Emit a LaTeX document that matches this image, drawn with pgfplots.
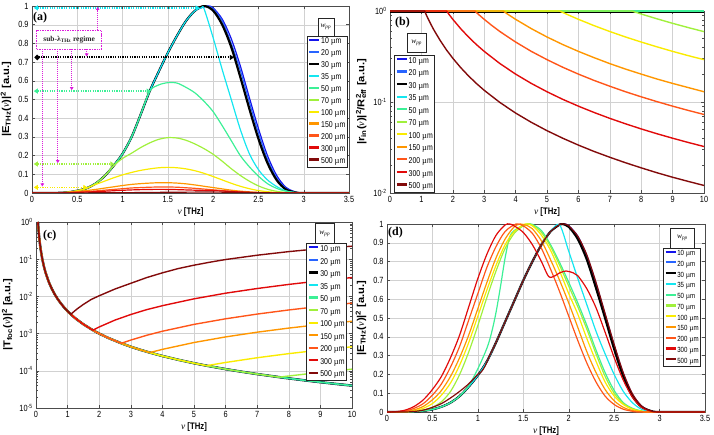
\documentclass[border=0pt]{standalone}
\usepackage{fontspec}
\setmainfont{Liberation Sans}
\newfontfamily\tickf{Liberation Sans}[FakeStretch=0.82]
\newfontfamily\ylabf{Liberation Sans}[FakeStretch=1.12]
\newfontfamily\serif{Liberation Serif}
\usepackage{pgfplots}
\pgfplotsset{compat=1.18}
\usepackage{pgfplotstable}
\usetikzlibrary{arrows.meta}

\newcommand{\um}{{\serif µ}m}
\newcommand{\nuv}{{\serif\itshape\mdseries ν}}
\newcommand{\wpp}{{\serif\itshape w}\textsubscript{\serif\itshape pp}}

\definecolor{c10}{RGB}{20,20,235}
\definecolor{c20}{RGB}{40,100,255}
\definecolor{c30}{RGB}{0,0,0}
\definecolor{c35}{RGB}{20,230,240}
\definecolor{c50}{RGB}{60,240,150}
\definecolor{c70}{RGB}{160,240,60}
\definecolor{c100}{RGB}{250,235,0}
\definecolor{c150}{RGB}{255,150,0}
\definecolor{c200}{RGB}{255,85,25}
\definecolor{c300}{RGB}{225,10,10}
\definecolor{c500}{RGB}{130,10,10}
\definecolor{mag}{RGB}{220,30,220}

\pgfplotsset{
  panel/.style={
    scale only axis,
    axis line style={black!70, line width=0.5pt},
    tick style={black!70, line width=0.4pt},
    tick align=inside,
    major tick length=3pt,
    minor tick length=1.8pt,
    grid=major,
    grid style={black!18, line width=0.3pt},
    ticklabel style={font=\tickf\fontsize{9}{10}\selectfont},
    xlabel style={font=\bfseries\tickf\fontsize{9.5}{10}\selectfont, yshift=2pt},
    ylabel style={font=\bfseries\ylabf\fontsize{10}{11}\selectfont},
    /pgf/number format/assume math mode=true,
    every axis plot/.append style={line width=1.2pt},
    legend cell align=left,
    legend image code/.code={\draw[line width=2.2pt, ##1] (0pt,2pt) -- (10pt,2pt);},
    legend style={draw=black!85, line width=0.6pt, fill=white,
       font=\tickf\fontsize{8.5}{9}\selectfont, inner sep=1pt,
       nodes={inner sep=0.8pt, text height=6pt, text depth=1.8pt},
       row sep=2.6pt},
  },
  sm/.style={smooth, tension=0.5},
}

\pgfplotstableread{
x y
0.0632 1
0.07 0.816
0.08 0.625
0.09 0.494
0.1 0.4
0.12 0.278
0.15 0.178
0.2 0.1
0.25 0.064
0.3 0.0444
0.4 0.025
0.5 0.016
0.6 0.0111
0.7 0.00816
0.8 0.00625
0.9 0.00494
1.0 0.004
1.1 0.00331
1.25 0.00256
1.5 0.00178
1.8 0.001235
2 0.001
2.3 0.000756
2.7 0.000549
3 0.000444
3.3 0.000367
3.6 0.000309
4 0.00025
4.5 0.000198
5 0.00016
5.4 0.0001372
6 0.000111
6.5 0.0000947
7 0.0000816
7.7 0.0000675
8 0.0000625
8.5 0.0000554
9 0.0000494
9.5 0.0000443
10 0.00004
}\Tcom

\begin{document}
\begin{tikzpicture}
\useasboundingbox (0,0) rectangle (714bp,435bp);

% ---------------- (a)
\begin{axis}[panel, at={(32bp,242bp)}, anchor=south west, width=317bp, height=187bp,
  xmin=0, xmax=3.5, ymin=0, ymax=1,
  xtick={0,0.5,1,1.5,2,2.5,3,3.5},
  ytick={0,0.1,0.2,0.3,0.4,0.5,0.6,0.7,0.8,0.9,1},
  xlabel={\nuv\ [THz]},
  ylabel={|E\textsubscript{THz}(\nuv)|\textsuperscript{2} [a.u.]},
  legend style={at={(0.995,0.84)}, anchor=north east}]
\addplot[c10, sm] coordinates {(0,0)(0.2,0)(0.3,0.001)(0.4,0.004)(0.5,0.012)(0.6,0.025)(0.7,0.05)(0.8,0.09)(0.9,0.145)(1.0,0.21)(1.1,0.30)(1.2,0.42)(1.3,0.545)(1.4,0.65)(1.5,0.75)(1.6,0.84)(1.7,0.92)(1.8,0.975)(1.9,0.995)(1.95,1.0)(2.0,0.99)(2.1,0.93)(2.2,0.825)(2.3,0.68)(2.4,0.51)(2.5,0.345)(2.6,0.20)(2.7,0.095)(2.8,0.032)(2.9,0.007)(3.0,0)(3.5,0)};
\addlegendentry{10 \um}
\addplot[c20, sm] coordinates {(0,0)(0.2,0)(0.3,0.001)(0.4,0.004)(0.5,0.012)(0.6,0.025)(0.7,0.05)(0.8,0.09)(0.9,0.145)(1.0,0.21)(1.1,0.30)(1.2,0.42)(1.3,0.545)(1.4,0.65)(1.5,0.75)(1.6,0.84)(1.7,0.92)(1.8,0.975)(1.9,0.997)(1.95,0.998)(2.0,0.985)(2.1,0.92)(2.2,0.80)(2.3,0.655)(2.4,0.485)(2.5,0.32)(2.6,0.18)(2.7,0.082)(2.8,0.026)(2.9,0.005)(3.0,0)(3.5,0)};
\addlegendentry{20 \um}
\addplot[c30, sm, line width=2.2pt] coordinates {(0,0)(0.2,0)(0.3,0.001)(0.4,0.004)(0.5,0.012)(0.6,0.025)(0.7,0.05)(0.8,0.09)(0.9,0.145)(1.0,0.21)(1.1,0.30)(1.2,0.42)(1.3,0.545)(1.4,0.65)(1.5,0.75)(1.6,0.84)(1.7,0.92)(1.8,0.975)(1.9,1.0)(2.0,0.975)(2.1,0.90)(2.2,0.78)(2.3,0.62)(2.4,0.45)(2.5,0.29)(2.6,0.16)(2.7,0.07)(2.8,0.02)(2.9,0.004)(3.0,0)(3.5,0)};
\addlegendentry{30 \um}
\addplot[c35, sm] coordinates {(0,0)(0.2,0)(0.3,0.001)(0.4,0.004)(0.5,0.012)(0.6,0.025)(0.7,0.05)(0.8,0.09)(0.9,0.145)(1.0,0.21)(1.1,0.30)(1.2,0.42)(1.3,0.545)(1.4,0.65)(1.5,0.75)(1.6,0.84)(1.7,0.92)(1.8,0.975)(1.87,0.99)(1.9,0.985)(2.0,0.83)(2.1,0.66)(2.2,0.50)(2.3,0.34)(2.4,0.21)(2.5,0.125)(2.6,0.07)(2.7,0.035)(2.8,0.012)(2.9,0.003)(3.0,0)(3.5,0)};
\addlegendentry{35 \um}
\addplot[c50, sm] coordinates {(0,0)(0.2,0)(0.3,0.001)(0.4,0.004)(0.5,0.012)(0.6,0.025)(0.7,0.05)(0.8,0.09)(0.9,0.145)(1.0,0.21)(1.1,0.30)(1.2,0.42)(1.3,0.545)(1.4,0.578)(1.5,0.59)(1.6,0.588)(1.7,0.565)(1.8,0.535)(1.9,0.49)(2.0,0.435)(2.1,0.36)(2.2,0.28)(2.3,0.20)(2.4,0.14)(2.5,0.09)(2.6,0.05)(2.7,0.025)(2.8,0.01)(2.9,0.003)(3.0,0)(3.5,0)};
\addlegendentry{50 \um}
\addplot[c70, sm] coordinates {(0,0)(0.2,0)(0.3,0.001)(0.4,0.004)(0.5,0.012)(0.6,0.025)(0.7,0.05)(0.8,0.09)(0.9,0.145)(1.0,0.185)(1.1,0.213)(1.2,0.243)(1.3,0.268)(1.4,0.287)(1.5,0.296)(1.6,0.294)(1.7,0.282)(1.8,0.262)(1.9,0.237)(2.0,0.207)(2.1,0.17)(2.2,0.13)(2.3,0.094)(2.4,0.063)(2.5,0.038)(2.6,0.02)(2.7,0.009)(2.8,0.003)(2.9,0.001)(3.0,0)(3.5,0)};
\addlegendentry{70 \um}
\addplot[c100, sm] coordinates {(0,0)(0.2,0)(0.3,0.001)(0.4,0.004)(0.5,0.012)(0.6,0.025)(0.7,0.045)(0.8,0.063)(0.9,0.081)(1.0,0.097)(1.1,0.11)(1.2,0.121)(1.3,0.129)(1.4,0.135)(1.5,0.137)(1.6,0.135)(1.7,0.129)(1.8,0.119)(1.9,0.105)(2.0,0.088)(2.1,0.07)(2.2,0.052)(2.3,0.036)(2.4,0.023)(2.5,0.013)(2.6,0.007)(2.7,0.003)(2.8,0.001)(2.9,0)(3.5,0)};
\addlegendentry{100 \um}
\addplot[c150, sm] coordinates {(0,0)(0.2,0)(0.3,0.001)(0.4,0.004)(0.5,0.008)(0.6,0.013)(0.7,0.019)(0.8,0.026)(0.9,0.033)(1.0,0.04)(1.1,0.046)(1.2,0.05)(1.3,0.053)(1.4,0.055)(1.5,0.055)(1.6,0.053)(1.7,0.049)(1.8,0.043)(1.9,0.036)(2.0,0.029)(2.1,0.022)(2.2,0.015)(2.3,0.01)(2.4,0.006)(2.5,0.003)(2.6,0.0015)(2.7,0.0005)(2.8,0)(3.5,0)};
\addlegendentry{150 \um}
\addplot[c200, sm] coordinates {(0,0)(0.2,0)(0.3,0.001)(0.4,0.003)(0.5,0.005)(0.6,0.008)(0.7,0.011)(0.8,0.015)(0.9,0.019)(1.0,0.023)(1.1,0.027)(1.2,0.029)(1.3,0.031)(1.4,0.032)(1.5,0.032)(1.6,0.031)(1.7,0.028)(1.8,0.025)(1.9,0.021)(2.0,0.017)(2.1,0.013)(2.2,0.009)(2.3,0.006)(2.4,0.0035)(2.5,0.002)(2.6,0.001)(2.8,0)(3.5,0)};
\addlegendentry{200 \um}
\addplot[c300, sm] coordinates {(0,0)(0.2,0)(0.3,0.0005)(0.4,0.0015)(0.5,0.003)(0.6,0.005)(0.7,0.007)(0.8,0.0095)(0.9,0.012)(1.0,0.0145)(1.1,0.0165)(1.2,0.018)(1.3,0.019)(1.4,0.0195)(1.5,0.019)(1.6,0.018)(1.7,0.0165)(1.8,0.015)(1.9,0.014)(2.0,0.0125)(2.1,0.0105)(2.2,0.008)(2.3,0.0055)(2.4,0.0035)(2.5,0.002)(2.6,0.001)(2.8,0)(3.5,0)};
\addlegendentry{300 \um}
\addplot[c500, sm] coordinates {(0,0)(0.3,0)(0.5,0.0005)(0.7,0.001)(0.9,0.0015)(1.0,0.0018)(1.1,0.002)(1.3,0.003)(1.5,0.0038)(1.7,0.0045)(1.9,0.005)(2.1,0.0045)(2.3,0.003)(2.5,0.0015)(2.7,0.0005)(2.9,0)(3.5,0)};
\addlegendentry{500 \um}
% annotations
\draw[c35, line width=1.6pt, dash pattern=on 1.2pt off 1.2pt, {Triangle[width=5pt,length=4pt]}-{Triangle[width=5pt,length=4pt]}] (axis cs:0.02,0.99) -- (axis cs:1.85,0.99);
\draw[black, line width=2pt, dash pattern=on 1.2pt off 1.2pt, {Circle[length=5pt]}-{Triangle[width=5pt,length=4pt]}] (axis cs:0.03,0.725) -- (axis cs:2.23,0.725);
\draw[c50, line width=1.6pt, dash pattern=on 1.2pt off 1.2pt, {Triangle[width=5pt,length=4pt]}-{Triangle[width=5pt,length=4pt]}] (axis cs:0.02,0.545) -- (axis cs:1.31,0.545);
\draw[c70, line width=1.6pt, dash pattern=on 1.2pt off 1.2pt, {Triangle[width=5pt,length=4pt]}-{Triangle[width=5pt,length=4pt]}] (axis cs:0.02,0.155) -- (axis cs:0.91,0.155);
\draw[c100, line width=1.6pt, dash pattern=on 1.2pt off 1.2pt, {Triangle[width=5pt,length=4pt]}-{Triangle[width=5pt,length=4pt]}] (axis cs:0.02,0.03) -- (axis cs:0.61,0.03);
\draw[mag, line width=0.6pt, dash pattern=on 1.5pt off 1pt] (axis cs:0.05,0.769) rectangle (axis cs:0.77,0.871);
\node[font=\serif\bfseries\fontsize{7.5}{8}\selectfont, text=black!85] at (axis cs:0.41,0.822) {sub-λ\textsubscript{THz} regime};
\draw[mag, line width=0.7pt, dash pattern=on 1pt off 1pt, -{Triangle[width=3.5pt,length=3pt]}] (axis cs:0.725,0.871) -- (axis cs:0.725,0.995);
\draw[mag, line width=0.7pt, dash pattern=on 1pt off 1pt, -{Triangle[width=3.5pt,length=3pt]}] (axis cs:0.114,0.769) -- (axis cs:0.114,0.035);
\draw[mag, line width=0.7pt, dash pattern=on 1pt off 1pt, -{Triangle[width=3.5pt,length=3pt]}] (axis cs:0.284,0.769) -- (axis cs:0.284,0.16);
\draw[mag, line width=0.7pt, dash pattern=on 1pt off 1pt, -{Triangle[width=3.5pt,length=3pt]}] (axis cs:0.438,0.769) -- (axis cs:0.438,0.55);
\draw[mag, line width=0.7pt, dash pattern=on 1pt off 1pt, -{Triangle[width=3.5pt,length=3pt]}] (axis cs:0.604,0.769) -- (axis cs:0.604,0.73);
\node[draw=black!85, line width=0.6pt, fill=white, minimum width=16bp, minimum height=18bp, inner sep=0pt, font=\fontsize{7.5}{8}\selectfont] at (rel axis cs:0.927,0.888) {\wpp};
\node[font=\serif\bfseries\fontsize{12}{13}\selectfont, anchor=west, inner sep=0pt] at (rel axis cs:0.003,0.94) {(a)};
\end{axis}

% ---------------- (b)
\begin{axis}[panel, at={(390bp,242bp)}, anchor=south west, width=314bp, height=182bp,
  ymode=log, xmin=0, xmax=10, ymin=0.01, ymax=1, clip=false,
  xtick={0,1,2,3,4,5,6,7,8,9,10},
  ytick={0.01,0.1,1}, yticklabels={10\textsuperscript{-2},10\textsuperscript{-1},10\textsuperscript{0}},
  xlabel={\nuv\ [THz]},
  ylabel={|r\textsubscript{in}(\nuv)|\textsuperscript{2}/R\rlap{\textsuperscript{2}}\textsubscript{eff} [a.u.]},
  every axis plot/.append style={line width=1.4pt},
  legend style={at={(0.014,0.003)}, anchor=south west, row sep=3.2pt}]
\addplot[c10] coordinates {(0,1)(10,1)};
\addlegendentry{10 \um}
\addplot[c20] coordinates {(0,1)(10,1)};
\addlegendentry{20 \um}
\addplot[c30, line width=2.2pt] coordinates {(0,0.975)(10,0.975)};
\addlegendentry{30 \um}
\addplot[c35] coordinates {(0,1)(10,1)};
\addlegendentry{35 \um}
\addplot[c50] coordinates {(0,1)(10,1)};
\addlegendentry{50 \um}
\addplot[c70] coordinates {(0,1)(7.7,1)(8,0.926)(8.5,0.821)(9,0.732)(9.5,0.657)(10,0.593)};
\addlegendentry{70 \um}
\addplot[c100] coordinates {(0,1)(5.4,1)(5.7,0.898)(6,0.81)(6.5,0.69)(7,0.595)(7.5,0.518)(8,0.456)(8.5,0.404)(9,0.36)(9.5,0.323)(10,0.292)};
\addlegendentry{100 \um}
\addplot[c150] coordinates {(0,1)(3.6,1)(3.8,0.898)(4,0.81)(4.5,0.64)(5,0.518)(5.5,0.428)(6,0.36)(6.5,0.307)(7,0.264)(7.5,0.23)(8,0.2025)(8.5,0.179)(9,0.16)(9.5,0.144)(10,0.1296)};
\addlegendentry{150 \um}
\addplot[c200] coordinates {(0,1)(2.7,1)(2.85,0.897)(3,0.81)(3.25,0.69)(3.5,0.595)(4,0.456)(4.5,0.36)(5,0.292)(5.5,0.241)(6,0.2025)(6.5,0.1725)(7,0.149)(7.5,0.1296)(8,0.114)(8.5,0.101)(9,0.09)(9.5,0.0808)(10,0.0729)};
\addlegendentry{200 \um}
\addplot[c300] coordinates {(0,1)(1.8,1)(1.9,0.898)(2,0.81)(2.25,0.64)(2.5,0.518)(2.75,0.428)(3,0.36)(3.5,0.2645)(4,0.2025)(4.5,0.16)(5,0.1296)(5.5,0.107)(6,0.09)(6.5,0.0767)(7,0.0661)(7.5,0.0576)(8,0.0506)(8.5,0.0448)(9,0.04)(9.5,0.0359)(10,0.0324)};
\addlegendentry{300 \um}
\addplot[c500] coordinates {(0,1)(1.1,1)(1.2,0.840)(1.3,0.716)(1.4,0.617)(1.6,0.473)(1.8,0.373)(2,0.3025)(2.25,0.239)(2.5,0.1936)(2.75,0.16)(3,0.1344)(3.5,0.0988)(4,0.0756)(4.5,0.0598)(5,0.0484)(5.5,0.04)(6,0.0336)(6.5,0.0286)(7,0.0247)(7.5,0.0215)(8,0.0189)(8.5,0.0167)(9,0.0149)(9.5,0.0134)(10,0.0121)};
\addlegendentry{500 \um}
\node[draw=black!85, line width=0.6pt, fill=white, minimum width=19bp, minimum height=19bp, inner sep=0pt, font=\fontsize{7.5}{8}\selectfont] at (rel axis cs:0.085,0.824) {\wpp};
\node[font=\serif\bfseries\fontsize{12}{13}\selectfont, anchor=west, inner sep=0pt] at (rel axis cs:0.016,0.934) {(b)};
\end{axis}

% ---------------- (c)
\begin{axis}[panel, at={(36bp,27bp)}, anchor=south west, width=316bp, height=186bp,
  ymode=log, xmin=0, xmax=10, ymin=1e-5, ymax=1,
  xtick={0,1,2,3,4,5,6,7,8,9,10},
  ytick={1e-5,1e-4,1e-3,1e-2,1e-1,1},
  yticklabels={10\textsuperscript{-5},10\textsuperscript{-4},10\textsuperscript{-3},10\textsuperscript{-2},10\textsuperscript{-1},10\textsuperscript{0}},
  xlabel={\nuv\ [THz]},
  ylabel={|T\textsubscript{foc}(\nuv)|\textsuperscript{2} [a.u.]},
  every axis plot/.append style={line width=1.4pt},
  legend style={at={(0.983,0.885)}, anchor=north east, row sep=3.2pt}]
\addplot[c10] table {\Tcom};
\addlegendentry{10 \um}
\addplot[c20] table {\Tcom};
\addlegendentry{20 \um}
\addplot[c30, line width=2.4pt] table {\Tcom};
\addlegendentry{30 \um}
\addplot[c35] table {\Tcom};
\addlegendentry{35 \um}
\addplot[c50] table {\Tcom};
\addlegendentry{50 \um}
\addplot[c70, forget plot, restrict x to domain=0:7.7] table {\Tcom};
\addplot[c70] coordinates {(7.7,0.0000675)(8,0.0000726)(9,0.0000908)(10,0.0001109)};
\addlegendentry{70 \um}
\addplot[c100, forget plot, restrict x to domain=0:5.4] table {\Tcom};
\addplot[c100] coordinates {(5.4,0.0001372)(6,0.0001675)(7,0.0002246)(8,0.0002895)(9,0.000362)(10,0.000442)};
\addlegendentry{100 \um}
\addplot[c150, forget plot, restrict x to domain=0:3.6] table {\Tcom};
\addplot[c150] coordinates {(3.6,0.000309)(4,0.000377)(5,0.000576)(6,0.000815)(7,0.001092)(8,0.001407)(9,0.00176)(10,0.00215)};
\addlegendentry{150 \um}
\addplot[c200, forget plot, restrict x to domain=0:2.7] table {\Tcom};
\addplot[c200] coordinates {(2.7,0.000549)(3,0.00067)(3.5,0.000899)(4,0.001158)(5,0.00177)(6,0.0025)(7,0.00335)(8,0.00432)(9,0.00541)(10,0.00661)};
\addlegendentry{200 \um}
\addplot[c300, forget plot, restrict x to domain=0:1.8] table {\Tcom};
\addplot[c300] coordinates {(1.8,0.001235)(2,0.001508)(2.5,0.00231)(3,0.00326)(3.5,0.0044)(4,0.00563)(5,0.0086)(6,0.0122)(7,0.0163)(8,0.021)(9,0.0263)(10,0.0321)};
\addlegendentry{300 \um}
\addplot[c500, forget plot, restrict x to domain=0:1.1] table {\Tcom};
\addplot[c500] coordinates {(1.1,0.00331)(1.3,0.0046)(1.5,0.0061)(1.75,0.0083)(2,0.0104)(2.5,0.0158)(3,0.0225)(3.5,0.032)(4,0.043)(4.5,0.056)(5,0.069)(5.5,0.083)(6,0.098)(7,0.128)(8,0.16)(9,0.193)(10,0.224)};
\addlegendentry{500 \um}
\node[draw=black!85, line width=0.6pt, fill=white, minimum width=19bp, minimum height=20bp, inner sep=0pt, font=\fontsize{7.5}{8}\selectfont] at (rel axis cs:0.914,0.939) {\wpp};
\node[font=\serif\bfseries\fontsize{12}{13}\selectfont, anchor=west, inner sep=0pt] at (rel axis cs:0.022,0.925) {(c)};
\end{axis}

% ---------------- (d)
\begin{axis}[panel, at={(387bp,23bp)}, anchor=south west, width=318bp, height=188bp,
  xmin=0, xmax=3.5, ymin=0, ymax=1,
  xtick={0,0.5,1,1.5,2,2.5,3,3.5},
  ytick={0,0.1,0.2,0.3,0.4,0.5,0.6,0.7,0.8,0.9,1},
  xlabel={\nuv\ [THz]},
  ylabel={|E\textsubscript{THz}(\nuv)|\textsuperscript{2} [a.u.]},
  legend style={at={(0.986,0.871)}, anchor=north east, font=\tickf\fontsize{7.5}{8}\selectfont,
    nodes={inner sep=0.6pt, text height=5.4pt, text depth=1.6pt}, row sep=2.6pt}]
\addplot[c10, sm] coordinates {(0,0)(0.2,0)(0.3,0.002)(0.4,0.006)(0.5,0.014)(0.6,0.028)(0.7,0.05)(0.8,0.085)(0.9,0.135)(1.0,0.195)(1.1,0.27)(1.2,0.37)(1.3,0.48)(1.4,0.59)(1.5,0.70)(1.6,0.80)(1.7,0.89)(1.8,0.96)(1.9,0.997)(1.95,1.0)(2.0,0.99)(2.1,0.935)(2.2,0.83)(2.3,0.685)(2.4,0.52)(2.5,0.355)(2.6,0.205)(2.7,0.095)(2.8,0.032)(2.9,0.007)(3.0,0)(3.5,0)};
\addlegendentry{10 \um}
\addplot[c20, sm] coordinates {(0,0)(0.2,0)(0.3,0.002)(0.4,0.006)(0.5,0.014)(0.6,0.028)(0.7,0.05)(0.8,0.085)(0.9,0.135)(1.0,0.195)(1.1,0.27)(1.2,0.37)(1.3,0.48)(1.4,0.59)(1.5,0.70)(1.6,0.80)(1.7,0.89)(1.8,0.96)(1.9,0.997)(1.95,1.0)(2.0,0.988)(2.1,0.927)(2.2,0.82)(2.3,0.67)(2.4,0.505)(2.5,0.34)(2.6,0.195)(2.7,0.088)(2.8,0.029)(2.9,0.006)(3.0,0)(3.5,0)};
\addlegendentry{20 \um}
\addplot[c30, sm, line width=2.2pt] coordinates {(0,0)(0.2,0)(0.3,0.002)(0.4,0.006)(0.5,0.014)(0.6,0.028)(0.7,0.05)(0.8,0.085)(0.9,0.135)(1.0,0.195)(1.1,0.27)(1.2,0.37)(1.3,0.48)(1.4,0.59)(1.5,0.70)(1.6,0.80)(1.7,0.89)(1.8,0.96)(1.9,0.997)(1.93,1.0)(2.0,0.985)(2.1,0.92)(2.2,0.81)(2.3,0.66)(2.4,0.50)(2.5,0.335)(2.6,0.19)(2.7,0.085)(2.8,0.028)(2.9,0.006)(3.0,0)(3.5,0)};
\addlegendentry{30 \um}
\addplot[c35, sm] coordinates {(0,0)(0.2,0)(0.3,0.002)(0.4,0.006)(0.5,0.014)(0.6,0.028)(0.7,0.05)(0.8,0.085)(0.9,0.135)(1.0,0.195)(1.1,0.27)(1.2,0.37)(1.3,0.48)(1.4,0.59)(1.5,0.70)(1.6,0.80)(1.7,0.89)(1.8,0.96)(1.9,0.995)(2.0,0.855)(2.1,0.71)(2.2,0.57)(2.3,0.43)(2.4,0.31)(2.5,0.20)(2.6,0.11)(2.7,0.05)(2.8,0.015)(2.9,0.003)(3.0,0)(3.5,0)};
\addlegendentry{35 \um}
\addplot[c50, sm] coordinates {(0,0)(0.2,0)(0.3,0.002)(0.4,0.006)(0.5,0.014)(0.6,0.028)(0.7,0.05)(0.8,0.085)(0.9,0.14)(1.0,0.23)(1.1,0.34)(1.15,0.42)(1.2,0.53)(1.25,0.67)(1.3,0.82)(1.35,0.93)(1.4,0.965)(1.5,0.993)(1.55,1.0)(1.6,0.998)(1.7,0.965)(1.8,0.89)(1.9,0.795)(2.0,0.69)(2.1,0.58)(2.2,0.46)(2.3,0.33)(2.4,0.21)(2.5,0.115)(2.6,0.05)(2.7,0.02)(2.8,0.006)(2.9,0)(3.5,0)};
\addlegendentry{50 \um}
\addplot[c70, sm] coordinates {(0,0)(0.2,0)(0.3,0.003)(0.4,0.01)(0.5,0.025)(0.6,0.055)(0.7,0.11)(0.8,0.2)(0.9,0.32)(1.0,0.46)(1.1,0.61)(1.2,0.75)(1.3,0.87)(1.4,0.95)(1.5,0.99)(1.55,1.0)(1.6,0.995)(1.7,0.955)(1.8,0.88)(1.9,0.78)(2.0,0.67)(2.1,0.56)(2.2,0.44)(2.3,0.31)(2.4,0.19)(2.5,0.10)(2.6,0.045)(2.7,0.017)(2.8,0.005)(2.9,0)(3.5,0)};
\addlegendentry{70 \um}
\addplot[c100, sm] coordinates {(0,0)(0.2,0.001)(0.3,0.006)(0.4,0.02)(0.5,0.045)(0.6,0.09)(0.7,0.155)(0.8,0.25)(0.9,0.37)(1.0,0.51)(1.1,0.65)(1.2,0.78)(1.3,0.89)(1.4,0.96)(1.52,1.0)(1.6,0.99)(1.7,0.94)(1.8,0.86)(1.9,0.75)(2.0,0.63)(2.1,0.52)(2.2,0.39)(2.3,0.27)(2.4,0.16)(2.5,0.085)(2.6,0.04)(2.7,0.015)(2.8,0.004)(2.9,0)(3.5,0)};
\addlegendentry{100 \um}
\addplot[c150, sm] coordinates {(0,0)(0.2,0.003)(0.3,0.012)(0.4,0.03)(0.5,0.065)(0.6,0.115)(0.7,0.19)(0.8,0.29)(0.9,0.41)(1.0,0.55)(1.1,0.69)(1.2,0.82)(1.3,0.92)(1.4,0.985)(1.47,1.0)(1.55,0.99)(1.6,0.975)(1.7,0.91)(1.8,0.81)(1.9,0.70)(2.0,0.58)(2.1,0.45)(2.2,0.32)(2.3,0.21)(2.4,0.12)(2.5,0.06)(2.6,0.025)(2.7,0.008)(2.8,0.002)(2.9,0)(3.5,0)};
\addlegendentry{150 \um}
\addplot[c200, sm] coordinates {(0,0)(0.1,0.001)(0.2,0.005)(0.3,0.02)(0.4,0.045)(0.5,0.09)(0.6,0.15)(0.7,0.24)(0.8,0.35)(0.9,0.49)(1.0,0.63)(1.1,0.77)(1.2,0.88)(1.3,0.96)(1.42,1.0)(1.5,0.99)(1.6,0.95)(1.7,0.87)(1.8,0.76)(1.9,0.64)(2.0,0.51)(2.1,0.38)(2.2,0.26)(2.3,0.16)(2.4,0.085)(2.5,0.04)(2.6,0.015)(2.7,0.004)(2.8,0)(3.5,0)};
\addlegendentry{200 \um}
\addplot[c300, sm] coordinates {(0,0)(0.1,0.002)(0.2,0.01)(0.3,0.03)(0.4,0.065)(0.5,0.12)(0.6,0.19)(0.7,0.29)(0.8,0.41)(0.9,0.56)(1.0,0.71)(1.1,0.84)(1.2,0.94)(1.3,0.995)(1.35,1.0)(1.4,0.99)(1.5,0.955)(1.6,0.89)(1.7,0.80)(1.78,0.72)(1.85,0.725)(1.9,0.74)(1.97,0.75)(2.05,0.74)(2.1,0.725)(2.2,0.655)(2.3,0.555)(2.4,0.425)(2.5,0.29)(2.6,0.17)(2.7,0.08)(2.8,0.025)(2.9,0.005)(3.0,0)(3.5,0)};
\addlegendentry{300 \um}
\addplot[c500, sm] coordinates {(0,0)(0.2,0)(0.3,0.003)(0.4,0.01)(0.5,0.025)(0.6,0.045)(0.7,0.075)(0.8,0.11)(0.9,0.15)(1.0,0.2)(1.04,0.215)(1.08,0.245)(1.12,0.29)(1.2,0.37)(1.3,0.48)(1.4,0.59)(1.5,0.70)(1.6,0.80)(1.7,0.89)(1.8,0.96)(1.9,0.997)(1.95,1.0)(2.0,0.99)(2.1,0.935)(2.2,0.835)(2.3,0.69)(2.4,0.525)(2.5,0.36)(2.6,0.21)(2.7,0.098)(2.8,0.033)(2.9,0.007)(3.0,0)(3.5,0)};
\addlegendentry{500 \um}
\node[draw=black!85, line width=0.6pt, fill=white, minimum width=24bp, minimum height=20bp, inner sep=0pt, font=\fontsize{7.5}{8}\selectfont] at (rel axis cs:0.929,0.924) {\wpp};
\node[font=\serif\bfseries\fontsize{12}{13}\selectfont, anchor=west, inner sep=0pt] at (rel axis cs:0.003,0.952) {(d)};
\end{axis}
\end{tikzpicture}
\end{document}
